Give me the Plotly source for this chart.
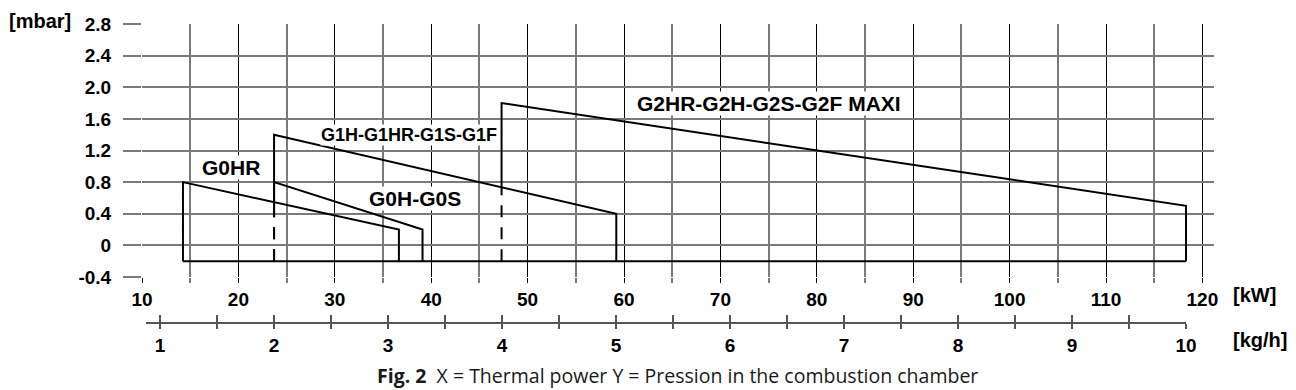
import plotly.graph_objects as go

# ---- data ----
models = ["G0HR", "G0H-G0S", "G1H-G1HR-G1S-G1F", "G2HR-G2H-G2S-G2F MAXI"]
kw_min = [14.25, 23.7, 23.7, 47.3]          # kW at minimum power
kw_max = [36.65, 39.1, 59.2, 118.3]         # kW at maximum power
p_at_min = [0.8, 0.8, 1.4, 1.8]             # mbar at minimum power
p_at_max = [0.2, 0.2, 0.4, 0.5]             # mbar at maximum power
dash_below = [-0.2, 0.4, 0.4, 0.7]          # vertical edge dashed below this value
base = -0.2                                  # common lower boundary (mbar)
label_x = [19.2, 38.3, 37.7, 75.0]
label_y = [0.99, 0.59, 1.40, 1.79]
label_size = [21, 21, 18, 21]

y_ticks = [-0.4, 0, 0.4, 0.8, 1.2, 1.6, 2.0, 2.4, 2.8]
y_ticktext = ["-0.4", "0", "0.4", "0.8", "1.2", "1.6", "2.0", "2.4", "2.8"]
kgh_ticks = [1, 1.5, 2, 2.5, 3, 3.5, 4, 4.5, 5, 5.5, 6, 6.5, 7, 7.5, 8, 8.5, 9, 9.5, 10]
kgh_text = [str(int(v)) if float(v).is_integer() else "" for v in kgh_ticks]

# ---- layout geometry (image pixels; page body has an 8px offset) ----
OFF = 8
W, H = 1296 - OFF, 390 - OFF
L, R, T, B = 142 - OFF, 82, 24 - OFF, 68
PW, PH = W - L - R, H - T - B
main_bottom_px = 277
kgh_left_px, kgh_right_px = 146, 1186
kgh_range = [0.877, 10]


def px_x(px):
    return (px - OFF - L) / PW


def px_y(py):
    return (H - B - (py - OFF)) / PH


FONT = "Liberation Sans, Arial, sans-serif"
bold = dict(family=FONT, size=19, color="black", weight="bold")

fig = go.Figure()

for i, m in enumerate(models):
    fig.add_trace(go.Scatter(
        x=[kw_min[i], kw_min[i], kw_max[i], kw_max[i]],
        y=[dash_below[i], p_at_min[i], p_at_max[i], base],
        mode="lines", line=dict(color="black", width=2),
        showlegend=False, hoverinfo="skip", name=m))
    if dash_below[i] > base:
        fig.add_trace(go.Scatter(
            x=[kw_min[i], kw_min[i]], y=[base, dash_below[i]],
            mode="lines", line=dict(color="black", width=2, dash="12px,10px"),
            showlegend=False, hoverinfo="skip"))

fig.add_trace(go.Scatter(
    x=[min(kw_min), max(kw_max)], y=[base, base], mode="lines",
    line=dict(color="black", width=2), showlegend=False, hoverinfo="skip"))

# dummy traces to create the kg/h axes
fig.add_trace(go.Scatter(x=kgh_range, y=[0.5, 0.5], xaxis="x2", yaxis="y2",
                         mode="markers", marker=dict(opacity=0),
                         showlegend=False, hoverinfo="skip"))
fig.add_trace(go.Scatter(x=kgh_range, y=[0.5, 0.5], xaxis="x3", yaxis="y2",
                         mode="markers", marker=dict(opacity=0),
                         showlegend=False, hoverinfo="skip"))

for i, m in enumerate(models):
    fig.add_annotation(x=label_x[i], y=label_y[i], xref="x", yref="y", text=m,
                       showarrow=False, bgcolor="white", borderpad=0,
                       xanchor="center", yanchor="middle",
                       font=dict(family=FONT, size=label_size[i], color="black", weight="bold"))

ydom0 = px_y(main_bottom_px)

fig.update_layout(
    width=W, height=H, margin=dict(l=L, r=R, t=T, b=B, pad=0, autoexpand=False),
    paper_bgcolor="white", plot_bgcolor="white",
    xaxis=dict(range=[10, 10 + PW / 9.64], dtick=10, tick0=10,
               showgrid=True, gridcolor="black", gridwidth=1,
               minor=dict(dtick=5, showgrid=True, gridcolor="#7a7a7a", gridwidth=2,
                          ticks="outside", ticklen=5, tickcolor="#7a7a7a", tickwidth=2),
               ticks="outside", ticklen=5, tickcolor="black", tickwidth=1,
               tickfont=bold, zeroline=False, showline=False, anchor="y",
               automargin=False, fixedrange=True),
    yaxis=dict(domain=[ydom0, 1], range=[-0.4, 2.8], tickvals=y_ticks,
               ticktext=y_ticktext, showgrid=True, gridcolor="#7a7a7a", gridwidth=1.6,
               ticks="outside", ticklen=18, tickcolor="#7a7a7a", tickwidth=1.6,
               ticklabelstandoff=8, tickfont=bold, zeroline=False, showline=False,
               anchor="x", automargin=False, fixedrange=True),
    yaxis2=dict(domain=[0, ydom0 * 0.5], range=[0, 1], visible=False, anchor="x2",
                automargin=False, fixedrange=True),
    xaxis2=dict(domain=[px_x(kgh_left_px), px_x(kgh_right_px)], range=kgh_range,
                anchor="y2", tickvals=kgh_ticks, ticktext=kgh_text,
                ticks="outside", ticklen=5, tickcolor="#555", tickwidth=1.5,
                showline=True, linecolor="#555", linewidth=1.5,
                showgrid=False, zeroline=False, tickfont=bold,
                automargin=False, fixedrange=True),
    xaxis3=dict(domain=[px_x(kgh_left_px), px_x(kgh_right_px)], range=kgh_range,
                anchor="y2", overlaying="x2", tickvals=kgh_ticks,
                ticks="inside", ticklen=7, tickcolor="#555", tickwidth=1.5,
                showticklabels=False, showline=False, showgrid=False,
                zeroline=False, automargin=False, fixedrange=True),
)

lab = dict(family=FONT, size=20, color="black", weight="bold")
fig.add_annotation(x=px_x(40), y=px_y(21), xref="paper", yref="paper", text="[mbar]",
                   showarrow=False, xanchor="center", yanchor="middle", font=lab)
fig.add_annotation(x=px_x(1254), y=px_y(295), xref="paper", yref="paper", text="[kW]",
                   showarrow=False, xanchor="center", yanchor="middle", font=lab)
fig.add_annotation(x=px_x(1260), y=px_y(340), xref="paper", yref="paper", text="[kg/h]",
                   showarrow=False, xanchor="center", yanchor="middle", font=lab)
fig.add_annotation(x=px_x(677), y=px_y(375), xref="paper", yref="paper",
                   text="<b>Fig. 2</b>  X = Thermal power Y = Pression in the combustion chamber",
                   showarrow=False, xanchor="center", yanchor="middle",
                   font=dict(family="Open Sans, Lato, sans-serif", size=19.5, color="#1a1a1a"))

fig.write_html("out.html")
